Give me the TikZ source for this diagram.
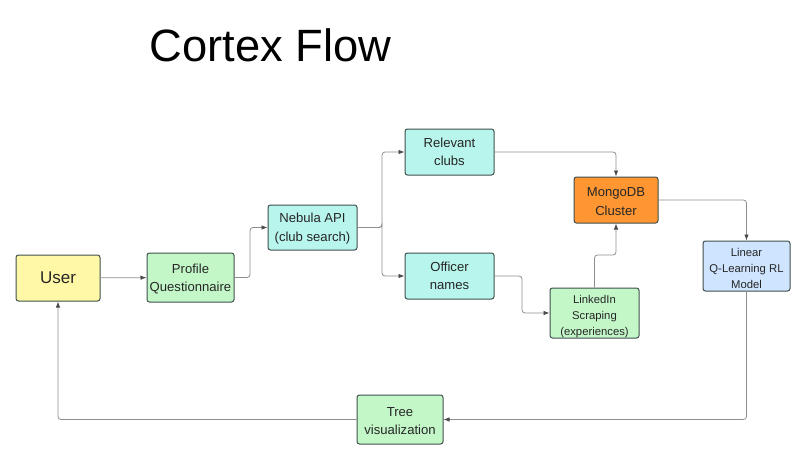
\documentclass[tikz,border=0pt]{standalone}
\usepackage{fontspec}
\setmainfont{Liberation Sans}
\usetikzlibrary{arrows.meta}

\definecolor{userfill}{HTML}{FFF8A6}
\definecolor{greenfill}{HTML}{C3F7C8}
\definecolor{cyanfill}{HTML}{B8F5EC}
\definecolor{orangefill}{HTML}{FF9632}
\definecolor{bluefill}{HTML}{CFE4FF}
\definecolor{boxline}{HTML}{3F4F4C}
\definecolor{linkline}{HTML}{8E8E8E}
\definecolor{tipfill}{HTML}{4A4A4A}

% pushes a node's lines down a little
\newcommand{\padfirst}[1]{\rule{0pt}{#1}}

\tikzset{
    box/.style={draw=boxline, line width=1pt, rounded corners=2.5pt, align=center,
        inner sep=0pt, font=\fontsize{13.1}{18.5}\selectfont, text=black!85},
    small/.style={font=\fontsize{11.3}{16}\selectfont},
    link/.style={draw=linkline, line width=0.8pt, rounded corners=3pt,
        -{Latex[length=6pt, width=4.5pt, fill=tipfill, tipfill]}}
}

\begin{document}
\begin{tikzpicture}[x=1pt, y=-1pt]
    \useasboundingbox (0, 0) rectangle (806, 460);

    \node (title) at (270.5, 45) {\fontsize{45.3}{50}\selectfont Cortex Flow};

    \node[box, fill=userfill, minimum width=84pt, minimum height=46pt, font=\fontsize{17}{20}\selectfont] (user) at (58, 278) {User};
    \node[box, fill=greenfill, minimum width=87pt, minimum height=49pt] (profile) at (190.5, 277.5) {\padfirst{12pt}Profile\\Questionnaire};
    \node[box, fill=cyanfill, minimum width=89pt, minimum height=45pt] (nebula) at (312.5, 227.5) {\padfirst{12pt}Nebula API\\(club search)};
    \node[box, fill=cyanfill, minimum width=89pt, minimum height=46pt] (clubs) at (449.5, 152) {Relevant\\clubs};
    \node[box, fill=cyanfill, minimum width=89pt, minimum height=46pt] (officers) at (449.5, 276) {Officer\\names};
    \node[box, fill=orangefill, minimum width=84pt, minimum height=46pt] (mongo) at (616, 200) {\padfirst{12pt}MongoDB\\Cluster};
    \node[box, small, fill=greenfill, minimum width=89pt, minimum height=50pt] (linkedin) at (594.5, 313) {\padfirst{15pt}LinkedIn\\Scraping\\(experiences)};
    \node[box, small, fill=bluefill, minimum width=87pt, minimum height=50pt] (model) at (746.5, 266) {\padfirst{13pt}Linear\\Q-Learning RL\\Model};
    \node[box, fill=greenfill, minimum width=86pt, minimum height=49pt] (tree) at (400, 419.5) {\padfirst{12pt}Tree\\visualization};

    % bends
    \coordinate (bendprofile) at (250, 250);
    \coordinate (bendnebula) at (382, 227.5);
    \coordinate (bendofficers) at (522, 300);
    \coordinate (bendlinkedin) at (605, 255);

    \draw[link] (user) -- (profile);
    \draw[link] (profile.east) -| (bendprofile) |- (nebula.west);
    \draw[link] (nebula.east) -| (bendnebula) |- (clubs.west);
    \draw[link] (nebula.east) -| (bendnebula) |- (officers.west);
    \draw[link] (clubs.east) -| (mongo.north);
    \draw[link] (officers.east) -| (bendofficers) |- (linkedin.west);
    \draw[link] (linkedin.north) |- (bendlinkedin) -| (mongo.south);
    \draw[link] (mongo.east) -| (model.north);
    \draw[link] (model.south) |- (tree.east);
    \draw[link] (tree.west) -| (user.south);
\end{tikzpicture}
\end{document}
